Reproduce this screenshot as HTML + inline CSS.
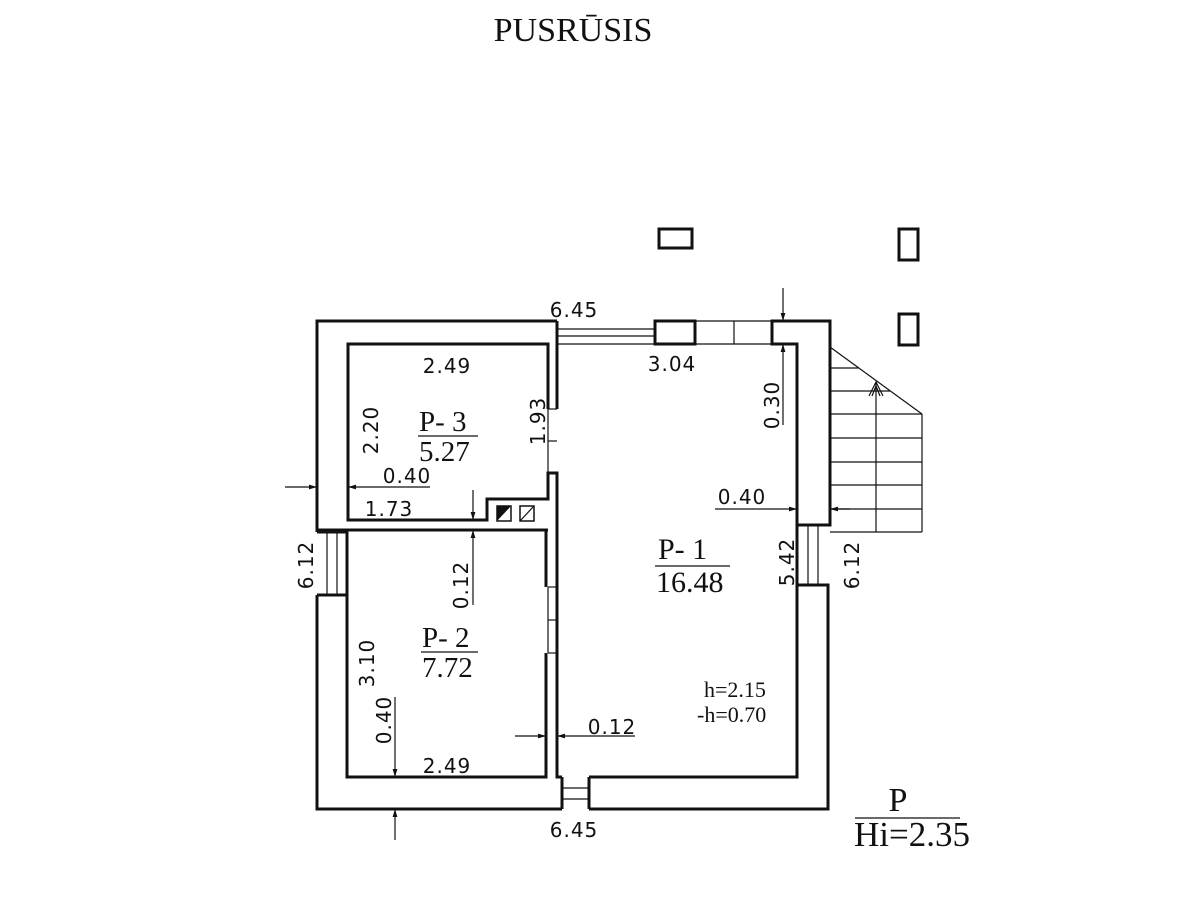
<!DOCTYPE html>
<html><head><meta charset="utf-8"><style>
html,body{margin:0;padding:0;background:#fff;}
svg{display:block}
.d{font-family:"DejaVu Sans","Liberation Sans",sans-serif;font-size:20px;fill:#111;letter-spacing:1px}
.s{font-family:"Liberation Serif",serif;fill:#111}
</style></head><body>
<svg width="1186" height="900" viewBox="0 0 1186 900" xmlns="http://www.w3.org/2000/svg">
<defs><marker id="a" viewBox="0 0 10 10" refX="10" refY="5" markerWidth="10" markerHeight="8" orient="auto-start-reverse" markerUnits="userSpaceOnUse"><path d="M0,2 L10,5 L0,8 z" fill="#111"/></marker></defs>
<text x="573" y="41" text-anchor="middle" class="s" font-size="34">PUSRŪSIS</text>
<g fill="none" stroke="#111" stroke-width="3">
<rect x="659" y="229" width="33" height="19"/>
<rect x="899" y="229" width="19" height="31"/>
<rect x="899" y="314" width="19" height="31"/>
<polyline points="557,321 317,321 317,532"/>
<polyline points="317,595 317,809 562,809"/>
<polyline points="589,809 828,809 828,585 797,585"/>
<polyline points="828,525 830,525 830,321 772,321 772,344 797,344 797,525 828,525"/>
<polyline points="797,585 797,777 589,777"/>
<rect x="655" y="321" width="40" height="23"/>
<polyline points="548,409 548,344 348,344 348,520 487,520 487,499 548,499 548,473 557,473 557,777 562,777"/>
<polyline points="557,409 557,321"/>
<line x1="317" y1="530" x2="548" y2="530"/>
<polyline points="317,532 347,532 347,777 546,777 546,653"/>
<polyline points="317,595 347,595"/>
<polyline points="546,587 546,530"/>
<line x1="557" y1="587" x2="557" y2="653"/>
<line x1="562" y1="777" x2="562" y2="809"/>
<line x1="589" y1="777" x2="589" y2="809"/>
<line x1="797" y1="525" x2="797" y2="585"/>
</g>
<g fill="none" stroke="#111" stroke-width="1.2">
<line x1="557" y1="329" x2="655" y2="329"/><line x1="557" y1="336" x2="655" y2="336"/><line x1="557" y1="344" x2="655" y2="344"/>
<line x1="695" y1="321" x2="772" y2="321"/><line x1="695" y1="344" x2="772" y2="344"/><line x1="734" y1="321" x2="734" y2="344"/>
<line x1="548" y1="409" x2="557" y2="409"/><line x1="548" y1="441" x2="557" y2="441"/><line x1="548" y1="409" x2="548" y2="473"/>
<line x1="548" y1="587" x2="557" y2="587"/><line x1="548" y1="620" x2="557" y2="620"/><line x1="548" y1="653" x2="557" y2="653"/><line x1="548" y1="587" x2="548" y2="653"/>
<line x1="327" y1="532" x2="327" y2="595"/><line x1="337" y1="532" x2="337" y2="595"/>
<line x1="808" y1="525" x2="808" y2="585"/><line x1="818" y1="525" x2="818" y2="585"/>
<line x1="562" y1="788" x2="589" y2="788"/><line x1="562" y1="799" x2="589" y2="799"/>
<line x1="830" y1="347" x2="922" y2="414"/>
<line x1="922" y1="414" x2="922" y2="532"/>
<line x1="876" y1="382" x2="876" y2="532"/>
<path d="M830 368H858M830 391H890M830 414H922M830 438H922M830 462H922M830 485H922M830 509H922M830 532H922"/>
<path d="M869 396 L876 382 L883 396 M872 396 L876 386 L880 396"/>
<line x1="348" y1="487" x2="392" y2="487" marker-start="url(#a)"/><line x1="392" y1="487" x2="430" y2="487"/>
<line x1="285" y1="487" x2="317" y2="487" marker-end="url(#a)"/>
<line x1="473" y1="490" x2="473" y2="520" marker-end="url(#a)"/>
<line x1="473" y1="605" x2="473" y2="530" marker-end="url(#a)"/>
<line x1="783" y1="288" x2="783" y2="321" marker-end="url(#a)"/>
<line x1="783" y1="425" x2="783" y2="344" marker-end="url(#a)"/>
<line x1="715" y1="509" x2="797" y2="509" marker-end="url(#a)"/>
<line x1="850" y1="509" x2="830" y2="509" marker-end="url(#a)"/>
<line x1="395" y1="697" x2="395" y2="777" marker-end="url(#a)"/>
<line x1="395" y1="840" x2="395" y2="809" marker-end="url(#a)"/>
<line x1="515" y1="736" x2="546" y2="736" marker-end="url(#a)"/>
<line x1="635" y1="736" x2="557" y2="736" marker-end="url(#a)"/>
<line x1="418" y1="436" x2="478" y2="436"/>
<line x1="421" y1="652" x2="478" y2="652"/>
<line x1="655" y1="566" x2="730" y2="566"/>
<line x1="855" y1="818" x2="960" y2="818"/>
</g>
<rect x="497" y="506" width="14" height="15" fill="#fff" stroke="#111" stroke-width="1.5"/>
<path d="M497 521 L511 506 L497 506 z" fill="#111"/>
<rect x="520" y="506" width="14" height="15" fill="#fff" stroke="#111" stroke-width="1.5"/>
<line x1="520" y1="521" x2="534" y2="506" stroke="#111" stroke-width="1.2"/>
<text class="d" x="574" y="317" text-anchor="middle">6.45</text>
<text class="d" x="672" y="371" text-anchor="middle">3.04</text>
<text class="d" x="447" y="373" text-anchor="middle">2.49</text>
<text class="d" x="407" y="483" text-anchor="middle">0.40</text>
<text class="d" x="389" y="516" text-anchor="middle">1.73</text>
<text class="d" x="742" y="504" text-anchor="middle">0.40</text>
<text class="d" x="612" y="734" text-anchor="middle">0.12</text>
<text class="d" x="447" y="773" text-anchor="middle">2.49</text>
<text class="d" x="574" y="837" text-anchor="middle">6.45</text>
<text class="d" transform="translate(378,430) rotate(-90)" text-anchor="middle">2.20</text>
<text class="d" transform="translate(545,421) rotate(-90)" text-anchor="middle">1.93</text>
<text class="d" transform="translate(468,585) rotate(-90)" text-anchor="middle">0.12</text>
<text class="d" transform="translate(779,405) rotate(-90)" text-anchor="middle">0.30</text>
<text class="d" transform="translate(794,562) rotate(-90)" text-anchor="middle">5.42</text>
<text class="d" transform="translate(859,565) rotate(-90)" text-anchor="middle">6.12</text>
<text class="d" transform="translate(313,565) rotate(-90)" text-anchor="middle">6.12</text>
<text class="d" transform="translate(374,663) rotate(-90)" text-anchor="middle">3.10</text>
<text class="d" transform="translate(391,720) rotate(-90)" text-anchor="middle">0.40</text>
<text class="s" x="419" y="431" font-size="29">P- 3</text>
<text class="s" x="419" y="461" font-size="29">5.27</text>
<text class="s" x="422" y="647" font-size="29">P- 2</text>
<text class="s" x="422" y="677" font-size="29">7.72</text>
<text class="s" x="658" y="559" font-size="30">P- 1</text>
<text class="s" x="656" y="592" font-size="30">16.48</text>
<text class="s" x="704" y="697" font-size="22">h=2.15</text>
<text class="s" x="697" y="722" font-size="22">-h=0.70</text>
<text class="s" x="898" y="811" font-size="34" text-anchor="middle">P</text>
<text class="s" x="854" y="846" font-size="35">Hi=2.35</text>
</svg>
</body></html>
